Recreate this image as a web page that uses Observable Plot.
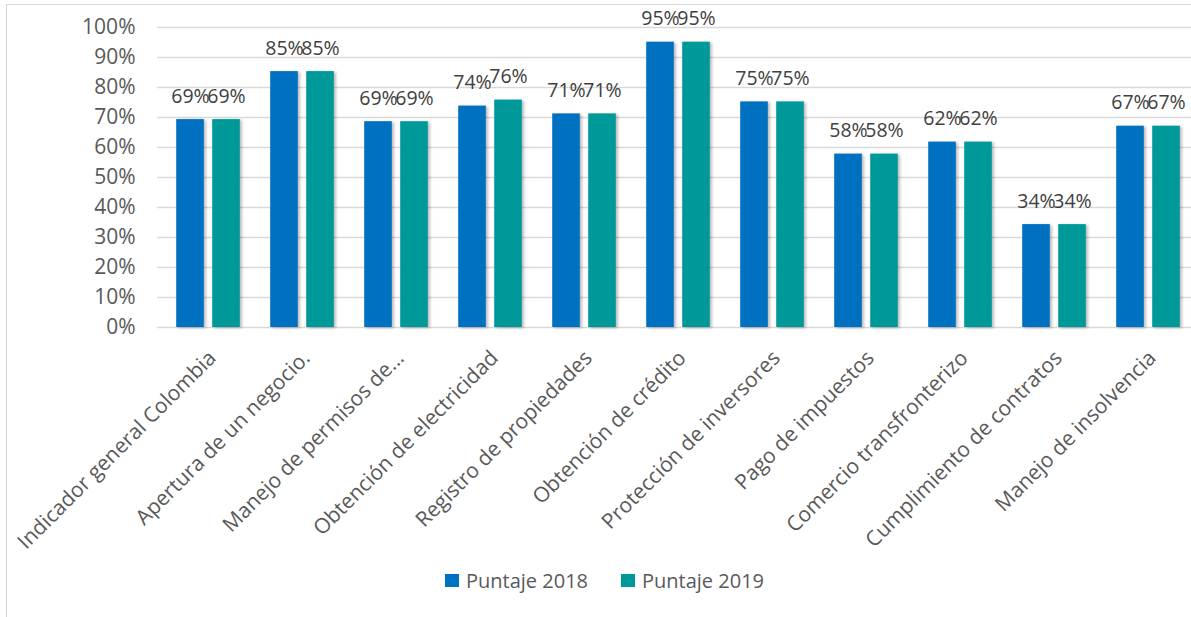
<!DOCTYPE html>
<html>
<head>
<meta charset="utf-8">
<script src="https://cdn.jsdelivr.net/npm/d3@7"></script>
<script src="https://cdn.jsdelivr.net/npm/@observablehq/plot@0.6"></script>
<style>
  html, body { margin: 0; padding: 0; background: #fff; }
  body { width: 1191px; height: 617px; overflow: hidden; position: relative; font-family: "Open Sans", sans-serif; }
  #frame { position: absolute; left: 6px; top: 4px; width: 1300px; height: 700px; border: 1.5px solid #d9d9d9; box-sizing: border-box; }
  #chart { position: absolute; left: 0; top: 0; }
  #legend { position: absolute; left: 0; top: 568px; width: 1191px; height: 24px; }
  .item { position: absolute; top: 0; display: flex; align-items: center; font-size: 20px; color: #595959; height: 24px; }
  .swatch { width: 14px; height: 13px; margin-right: 7px; }
  .bar rect { filter: drop-shadow(2px 1px 1.5px rgba(0,0,0,0.28)); }
</style>
</head>
<body>
<div id="frame"></div>
<div id="chart"></div>
<div id="legend"></div>
<script>
const categories = [
  "Indicador general Colombia",
  "Apertura de un negocio.",
  "Manejo de permisos de...",
  "Obtención de electricidad",
  "Registro de propiedades",
  "Obtención de crédito",
  "Protección de inversores",
  "Pago de impuestos",
  "Comercio transfronterizo",
  "Cumplimiento de contratos",
  "Manejo de insolvencia"
];
const series = ["Puntaje 2018", "Puntaje 2019"];
const values2018 = [0.693, 0.853, 0.686, 0.738, 0.712, 0.951, 0.752, 0.578, 0.618, 0.343, 0.671];
const values2019 = [0.693, 0.853, 0.686, 0.758, 0.712, 0.951, 0.752, 0.578, 0.618, 0.343, 0.671];
const yTicks = [0, 0.1, 0.2, 0.3, 0.4, 0.5, 0.6, 0.7, 0.8, 0.9, 1.0];
const colors = ["#0070C0", "#009999"];

const rows2018 = categories.map((c, i) => ({category: c, value: values2018[i]}));
const rows2019 = categories.map((c, i) => ({category: c, value: values2019[i]}));

const fmt = d3.format(".0%");
const barInset = 33.2;

const chart = Plot.plot({
  width: 1191,
  height: 560,
  marginTop: 27,
  marginBottom: 233,
  marginLeft: 157,
  marginRight: 0,
  style: {fontFamily: "'Open Sans', sans-serif", background: "transparent", overflow: "visible"},
  x: {domain: categories, range: [157, 1198], padding: 0, label: null},
  y: {domain: [0, 1], label: null},
  marks: [
    Plot.gridY(yTicks, {stroke: "#d9d9d9", strokeOpacity: 1, strokeWidth: 1.5}),
    Plot.axisY(yTicks, {tickFormat: fmt, tickSize: 0, tickPadding: 22, fontSize: 21, fill: "#595959", label: null}),
    Plot.axisX({tickSize: 0, tickRotate: -45, tickPadding: 27, fontSize: 21, fill: "#595959", label: null, dx: 4}),
    Plot.barY(rows2018, {x: "category", y: "value", fill: colors[0], insetLeft: barInset, insetRight: barInset, dx: -18, className: "bar"}),
    Plot.barY(rows2019, {x: "category", y: "value", fill: colors[1], insetLeft: barInset, insetRight: barInset, dx: 18, className: "bar"}),
    Plot.text(rows2018, {x: "category", y: "value", text: d => fmt(d.value), dx: -18, dy: -23, fontSize: 19.5, fill: "#404040"}),
    Plot.text(rows2019, {x: "category", y: "value", text: d => fmt(d.value), dx: 18, dy: -23, fontSize: 19.5, fill: "#404040"})
  ]
});
document.getElementById("chart").appendChild(chart);

const legend = document.getElementById("legend");
const lefts = [445, 621];
series.forEach((s, i) => {
  const item = document.createElement("div");
  item.className = "item";
  item.style.left = lefts[i] + "px";
  const sw = document.createElement("span");
  sw.className = "swatch";
  sw.style.background = colors[i];
  const t = document.createElement("span");
  t.textContent = s;
  item.appendChild(sw);
  item.appendChild(t);
  legend.appendChild(item);
});
</script>
</body>
</html>
